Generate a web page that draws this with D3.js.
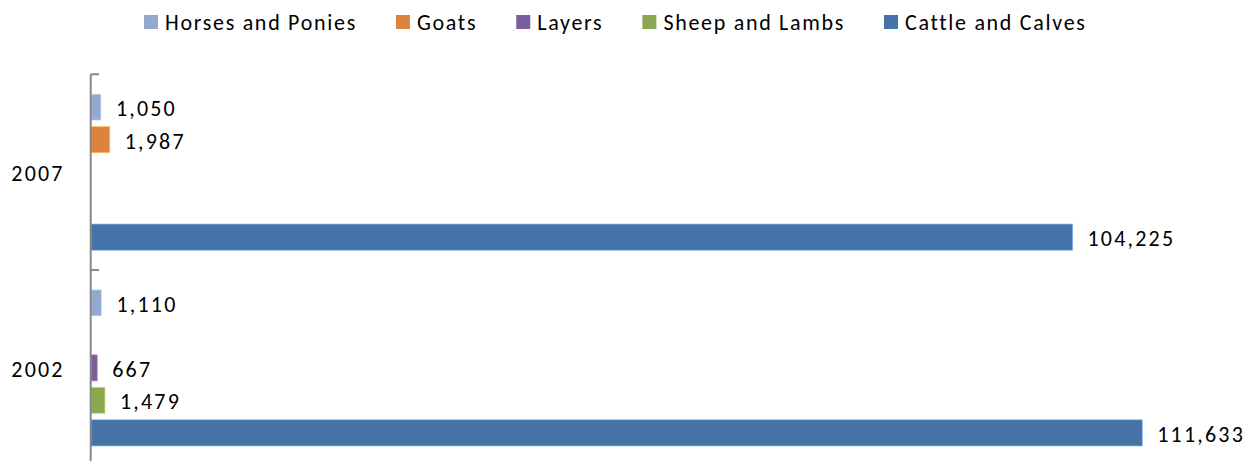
<!DOCTYPE html>
<html>
<head>
<meta charset="utf-8">
<script src="https://cdn.jsdelivr.net/npm/d3@7"></script>
<style>
  html, body { margin: 0; padding: 0; background: #fff; }
  svg { display: block; }
  text { font-family: Carlito, Calibri, Lato, sans-serif; fill: #000; }
</style>
</head>
<body>
<svg id="chart" width="1257" height="461"></svg>
<script>
const categories = ['2007', '2002'];
const seriesNames = ['Horses and Ponies', 'Goats', 'Layers', 'Sheep and Lambs', 'Cattle and Calves'];
const seriesColors = ['#93A9D0', '#DC843E', '#7B5D9B', '#8BA750', '#4572A7'];
const values2007 = [1050, 1987, null, null, 104225];
const values2002 = [1110, null, 667, 1479, 111633];
const valuesByCategory = { '2007': values2007, '2002': values2002 };

const svg = d3.select('#chart');
const W = 1257, H = 461;
const fontSize = 22;
const numSpacing = 2.2;
const legSpacing = 1.7;

const x = d3.scaleLinear().domain([0, 120000]).range([91, 1221]);
const y = d3.scaleBand().domain(categories).range([74.3, 465.7]).paddingInner(0).paddingOuter(0);
const ySub = d3.scaleBand().domain(seriesNames).range([0, y.bandwidth()]).paddingInner(0.2).paddingOuter(0.61);

const fmt = d3.format(',');

// bars
const groups = svg.append('g').selectAll('g')
  .data(categories).join('g')
  .attr('transform', d => `translate(0,${y(d)})`);

groups.each(function(cat) {
  const g = d3.select(this);
  const rows = seriesNames.map((s, i) => ({ s, i, v: valuesByCategory[cat][i] })).filter(r => r.v != null);
  g.selectAll('rect').data(rows).join('rect')
    .attr('x', x(0))
    .attr('y', r => ySub(r.s))
    .attr('width', r => x(r.v) - x(0))
    .attr('height', ySub.bandwidth())
    .attr('fill', r => seriesColors[r.i])
    .attr('stroke', r => d3.color(seriesColors[r.i]).brighter(0.9))
    .attr('stroke-opacity', 0.6)
    .attr('stroke-width', 1);
  g.selectAll('text.val').data(rows).join('text')
    .attr('class', 'val')
    .attr('x', r => x(r.v) + 15)
    .attr('y', r => ySub(r.s) + ySub.bandwidth() / 2 + 1.5)
    .attr('dominant-baseline', 'central')
    .style('font-size', fontSize + 'px')
    .style('letter-spacing', numSpacing + 'px')
    .text(r => fmt(r.v));
});

// category axis
const axis = d3.axisLeft(y).tickSize(0).tickPadding(26);
const axG = svg.append('g').attr('transform', `translate(${x(0) - 0.3},0)`).call(axis);
axG.select('.domain').remove();
axG.selectAll('.tick text')
  .style('font-size', fontSize + 'px')
  .style('font-family', 'Carlito, Calibri, Lato, sans-serif')
  .style('letter-spacing', numSpacing + 'px')
  .attr('fill', '#000')
  .attr('dy', '0.4em');

const axisColor = '#878787';
svg.append('line')
  .attr('x1', x(0) - 0.3).attr('x2', x(0) - 0.3)
  .attr('y1', y.range()[0]).attr('y2', H)
  .attr('stroke', axisColor).attr('stroke-width', 2);
const boundaries = categories.map(c => y(c)).concat([y.range()[1]]);
svg.append('g').selectAll('line').data(boundaries).join('line')
  .attr('x1', x(0) - 0.3).attr('x2', x(0) + 8)
  .attr('y1', d => d).attr('y2', d => d)
  .attr('stroke', axisColor).attr('stroke-width', 2);

// legend
const legend = svg.append('g');
let lx = 144;
seriesNames.forEach((s, i) => {
  legend.append('rect')
    .attr('x', lx).attr('y', 15)
    .attr('width', 14).attr('height', 14)
    .attr('fill', seriesColors[i]);
  const t = legend.append('text')
    .attr('x', lx + 21).attr('y', 29.5)
    .style('font-size', fontSize + 'px')
    .style('letter-spacing', legSpacing + 'px')
    .text(s);
  const w = t.node().getComputedTextLength();
  lx += 21 + w + 39;
});
</script>
</body>
</html>
